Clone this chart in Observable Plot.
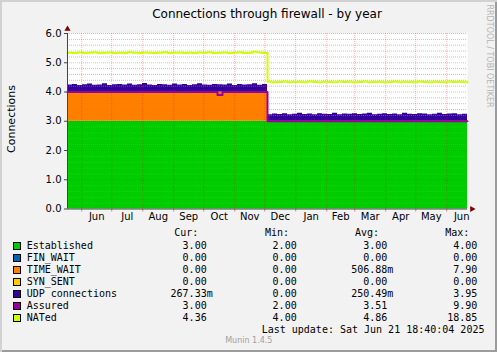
<!DOCTYPE html>
<html>
<head>
<meta charset="utf-8">
<script src="https://cdn.jsdelivr.net/npm/d3@7"></script>
<script src="https://cdn.jsdelivr.net/npm/@observablehq/plot@0.6"></script>
<style>
  html, body { margin: 0; padding: 0; background: #f2f2f2; }
  #wrap { position: relative; width: 497px; height: 352px; background: #f2f2f2; overflow: hidden;
          box-shadow: inset 2px 2px 0 #d2d2d2, inset -2px -2px 0 #9c9c9c; }
  #wrap svg { position: absolute; left: 0; top: 0; }
  .t { position: absolute; white-space: pre; }
  .mono { font-family: "DejaVu Sans Mono", monospace; font-size: 10px; line-height: 12px; color: #000; }
  .sq { position: absolute; width: 6px; height: 6px; border: 1px solid #000; }
</style>
</head>
<body>
<div id="wrap"></div>
<script>
// ---------- data ----------
const startDate = "2024-05-17T18:40:04Z";   // left edge of the graph (400 days)
const endDate   = "2025-06-21T18:40:04Z";   // last update
const stepDays  = 5;                        // one sample every 5 days

const established = [3,3,3,3,3,3,3,3,3,3, 3,3,3,3,3,3,3,3,3,3, 3,3,3,3,3,3,3,3,3,3, 3,3,3,3,3,3,3,3,3,3,
                     3,3,3,3,3,3,3,3,3,3, 3,3,3,3,3,3,3,3,3,3, 3,3,3,3,3,3,3,3,3,3, 3,3,3,3,3,3,3,3,3,3, 3];
const timeWait    = [1,1,1,1,1,1,1,1,1,1, 1,1,1,1,1,1,1,1,1,1, 1,1,1,1,1,1,1,1,1,1, 1,1,1,1,1,1,1,1,1,1,
                     0,0,0,0,0,0,0,0,0,0, 0,0,0,0,0,0,0,0,0,0, 0,0,0,0,0,0,0,0,0,0, 0,0,0,0,0,0,0,0,0,0, 0];
const udp = [0.24,0.26,0.22,0.25,0.27,0.23,0.24,0.28,0.22,0.25, 0.26,0.24,0.27,0.23,0.25,0.29,0.24,0.22,0.26,0.25,
             0.23,0.27,0.24,0.26,0.22,0.25,0.28,0.24,0.23,0.26, 0.25,0.24,0.27,0.22,0.26,0.24,0.25,0.28,0.23,0.26,
             0.22,0.25,0.23,0.26,0.22,0.24,0.27,0.23,0.25,0.22, 0.26,0.24,0.23,0.27,0.22,0.25,0.24,0.26,0.23,0.25,
             0.27,0.22,0.24,0.26,0.23,0.25,0.22,0.27,0.24,0.23, 0.26,0.25,0.22,0.24,0.27,0.23,0.25,0.26,0.22,0.24, 0.25];
const assured = [4,4,4,4,4,4,4,4,4,4, 4,4,4,4,4,4,4,4,4,4, 4,4,4,4,4,4,4,4,4,4, 3.9,4,4,4,4,4,4,4,4,4,
                 3,3,3,3,3,3,3,3,3,3, 3,3,3,3,3,3,3,3,3,3, 3,3,3,3,3,3,3,3,3,3, 3,3,3,3,3,3,3,3,3,3, 3];
const nated = [5.34,5.33,5.35,5.33,5.34,5.36,5.33,5.34,5.35,5.33, 5.34,5.33,5.36,5.34,5.33,5.35,5.34,5.33,5.34,5.36,
               5.33,5.34,5.35,5.33,5.34,5.33,5.35,5.34,5.36,5.33, 5.34,5.35,5.33,5.34,5.36,5.33,5.34,5.38,5.35,5.33,
               4.35,4.33,4.34,4.36,4.33,4.34,4.35,4.33,4.36,4.34, 4.33,4.35,4.34,4.33,4.36,4.34,4.35,4.33,4.34,4.36,
               4.33,4.34,4.35,4.33,4.34,4.36,4.33,4.35,4.34,4.33, 4.36,4.34,4.33,4.35,4.34,4.33,4.36,4.34,4.35,4.33, 4.36];

const yTicks = [0, 1, 2, 3, 4, 5, 6];

// legend
const legendNames  = ["Established","FIN_WAIT","TIME_WAIT","SYN_SENT","UDP connections","Assured","NATed"];
const legendColors = ["#00CC00","#0066B3","#FF8000","#FFCC00","#330099","#990099","#CCFF00"];
const curVals = ["3.00 ","0.00 ","0.00 ","0.00 ","267.33m","3.00 ","4.36 "];
const minVals = ["2.00 ","0.00 ","0.00 ","0.00 ","0.00 ","2.00 ","4.00 "];
const avgVals = ["3.00 ","0.00 ","506.88m","0.00 ","250.49m","3.51 ","4.86 "];
const maxVals = ["4.00 ","0.00 ","7.90 ","0.00 ","3.95 ","9.90 ","18.85 "];

// ---------- build ----------
const t0 = new Date(startDate), t1 = new Date(endDate);
const rows = established.map((e, i) => {
  const date = d3.utcDay.offset(t0, i * stepDays);
  const twTop = e + timeWait[i];
  return { date, est: e, tw: twTop, udp: twTop + udp[i], assured: assured[i], nated: nated[i] };
});

const monthStarts = d3.utcMonth.range(d3.utcMonth.ceil(t0), t1);
const midMonths = d3.utcMonth.range(d3.utcMonth.floor(t0), t1)
  .map(m => new Date((+m + +d3.utcMonth.offset(m, 1)) / 2))
  .filter(d => d >= t0 && d <= t1);
const minor = d3.range(0, 6.001, 0.2).map(v => Math.round(v * 10) / 10).filter(v => !yTicks.includes(v));

const plot = Plot.plot({
  width: 497, height: 352,
  marginLeft: 67, marginRight: 30, marginTop: 33, marginBottom: 143.5,
  style: { background: "transparent", fontFamily: "DejaVu Sans", fontSize: "10px", color: "#000", overflow: "visible" },
  x: { type: "utc", domain: [t0, t1], axis: null },
  y: { domain: [0, 6], axis: null },
  marks: [
    Plot.frame({ fill: "white", stroke: null }),
    Plot.area(rows, { x1: "date", y1: 0, y2: "est", fill: "#00CC00", curve: "step-after" }),
    Plot.area(rows, { x1: "date", y1: "est", y2: "tw", fill: "#FF8000", curve: "step-after" }),
    Plot.area(rows, { x1: "date", y1: "tw", y2: "udp", fill: "#330099", curve: "step-after" }),
    Plot.ruleY(minor, { stroke: "#8f8f8f", strokeOpacity: 0.55, strokeDasharray: "1,1" }),
    Plot.ruleY(yTicks.filter(v => v > 0), { stroke: "#f00000", strokeOpacity: 0.3, strokeDasharray: "1,1" }),
    Plot.ruleX(monthStarts, { stroke: "#f00000", strokeOpacity: 0.3, strokeDasharray: "1,1" }),
    Plot.line(rows, { x: "date", y: "assured", stroke: "#990099", strokeWidth: 2, curve: "step-after" }),
    Plot.line(rows, { x: "date", y: "nated", stroke: "#CCFF00", strokeWidth: 2, curve: "step-after" }),
    Plot.axisY({ ticks: yTicks, tickFormat: d3.format(".1f"), tickSize: 3, tickPadding: 3, label: null, stroke: "#444" }),
    Plot.axisX({ ticks: monthStarts, tickSize: 3, tickFormat: () => "", label: null, stroke: "#f00000", strokeOpacity: 0.5 }),
    Plot.axisX({ ticks: midMonths, tickSize: 0, tickPadding: 4, tickFormat: d3.utcFormat("%b"), label: null }),
    Plot.ruleX([t0], { stroke: "#444", strokeWidth: 1 }),
    Plot.ruleY([0], { stroke: "#444", strokeWidth: 1 }),
    Plot.dot([t0], { x: d => d, y: 6, symbol: "triangle", r: 2.3, fill: "#7f0000", stroke: null, dy: -4.5 }),
    Plot.dot([t1], { x: d => d, y: 0, symbol: "triangle", r: 2.3, fill: "#7f0000", stroke: null, dx: 4.5, rotate: 90 })
  ]
});

const wrap = document.getElementById("wrap");
wrap.appendChild(plot);

function addText(txt, css, cls) {
  const d = document.createElement("div");
  d.className = "t " + (cls || "");
  d.textContent = txt;
  Object.assign(d.style, css);
  wrap.appendChild(d);
  return d;
}

// title
addText("Connections through firewall - by year",
  { left: "267px", top: "7px", transform: "translateX(-50%)", fontFamily: "DejaVu Sans", fontSize: "12px", lineHeight: "14px", color: "#000" });
// y label
addText("Connections",
  { left: "10.5px", top: "119px", transform: "translate(-50%,-50%) rotate(-90deg)", fontFamily: "DejaVu Sans", fontSize: "11px", lineHeight: "13px", color: "#000" });
// watermark
addText("RRDTOOL / TOBI OETIKER",
  { left: "488.7px", top: "56px", transform: "translate(-50%,-50%) rotate(90deg)", fontFamily: "DejaVu Sans", fontSize: "8px", lineHeight: "10px", color: "#b4b4b4" });

// legend header
const headers = [["Cur:", 198.3], ["Min:", 289], ["Avg:", 379], ["Max:", 469.3]];
headers.forEach(([h, r]) => addText(h, { right: (497 - r) + "px", top: (233.3 - 6) + "px" }, "mono"));

const cols = [[curVals, 212.7], [minVals, 302.7], [avgVals, 393.3], [maxVals, 483.3]];
legendNames.forEach((name, i) => {
  const cy = 245.7 + 12 * i;
  const sq = document.createElement("div");
  sq.className = "sq";
  Object.assign(sq.style, { left: "13px", top: (cy - 4) + "px", background: legendColors[i] });
  wrap.appendChild(sq);
  addText(name, { left: "26.7px", top: (cy - 6) + "px" }, "mono");
  cols.forEach(([vals, r]) => addText(vals[i], { right: (497 - r) + "px", top: (cy - 6) + "px" }, "mono"));
});

addText("Last update: Sat Jun 21 18:40:04 2025", { left: "261.7px", top: (330 - 6) + "px" }, "mono");
addText("Munin 1.4.5", { left: "248.8px", top: "336px", transform: "translateX(-50%)", fontFamily: "DejaVu Sans", fontSize: "8px", lineHeight: "10px", color: "#a0a0a0" });
</script>
</body>
</html>
